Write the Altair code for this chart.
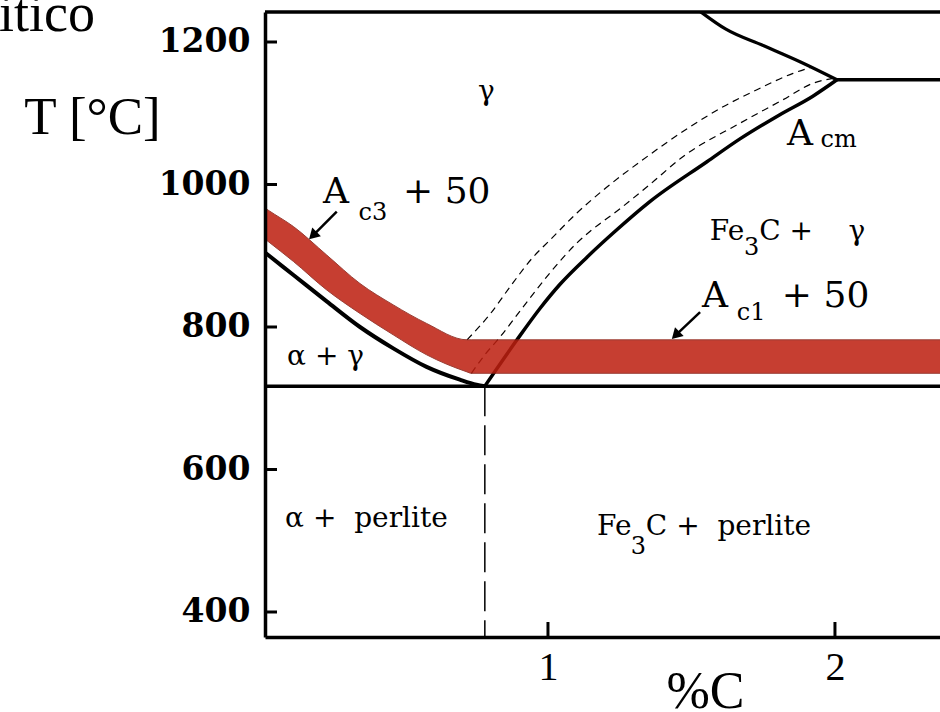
import altair as alt
import pandas as pd

# ---- axis ticks -------------------------------------------------------
x_ticks = [1, 2]
y_ticks = [400, 600, 800, 1000, 1200]

# ---- phase boundaries (%C, T in °C) -----------------------------------
# A3 line: alpha+gamma / gamma boundary down to the eutectoid point
a3_c = [0.0, 0.025, 0.113, 0.229, 0.345, 0.461, 0.577, 0.693, 0.751, 0.78]
a3_t = [909, 901, 873, 836, 800, 770, 744, 726, 719, 717]

# eutectoid isotherm A1
a1_c = [0.0, 2.4]
a1_t = [717, 717]

# Acm line: gamma / Fe3C+gamma boundary up to the eutectic point
acm_c = [0.78, 0.892, 0.972, 1.042, 1.136, 1.233, 1.355, 1.554, 1.669, 1.808, 1.923, 2.007]
acm_t = [717, 782, 826, 860, 898, 934, 976, 1032, 1064, 1098, 1124, 1147]

# solidus branch reaching the eutectic point
sol_c = [1.53, 1.62, 1.75, 1.88, 2.007]
sol_t = [1243, 1218, 1195, 1172, 1147]

# eutectic isotherm
eut_c = [2.007, 2.4]
eut_t = [1147, 1147]

# dashed curves above Acm
dash_a_c = [0.718, 0.798, 0.878, 0.948, 1.007, 1.101, 1.192, 1.328, 1.495, 1.610, 1.728, 1.854, 1.913]
dash_a_t = [782, 818, 862, 898, 922, 960, 992, 1034, 1081, 1109, 1133, 1156, 1164]
dash_b_c = [0.733, 0.780, 0.833, 0.913, 1.007, 1.101, 1.146, 1.251, 1.355, 1.470, 1.669, 1.819, 1.923, 1.993]
dash_b_t = [735, 761, 786, 828, 876, 918, 934, 966, 1000, 1039, 1086, 1119, 1142, 1149]

# eutectoid composition (vertical dashed line)
eutectoid_c = [0.78, 0.78]
eutectoid_t = [717, 364.9]

# hardening temperature range: Ac3+50 and Ac1+50 band
band_c = [0.0, 0.025, 0.113, 0.229, 0.345, 0.461, 0.577, 0.718, 0.733, 2.4]
band_hi = [971, 964, 941, 901, 861, 831, 805, 782, 782, 782]
band_lo = [928, 920, 892, 852, 819, 789, 761, 737, 735, 735]

# arrows pointing to the band
arrow_c0 = [0.264, 1.530]
arrow_t0 = [962, 821]
arrow_c1 = [0.185, 1.449]
arrow_t1 = [930, 790]

# annotations: text, %C, T, font size
label_text = ["\u03b3", "A", "c3", "+ 50", "A", "c1", "+ 50", "A", "cm",
              "Fe", "3", "C +\u00a0\u00a0\u00a0\u00a0\u03b3", "\u03b1 + \u03b3",
              "\u03b1 +\u00a0\u00a0perlite", "Fe", "3", "C +\u00a0\u00a0perlite"]
label_c = [0.756, 0.216, 0.340, 0.495, 1.537, 1.658, 1.815, 1.833, 1.950,
           1.564, 1.683, 1.736, 0.091, 0.084, 1.171, 1.288, 1.341]
label_t = [1119, 974, 950, 974, 828, 810, 828, 1055, 1053,
           922, 901, 922, 747, 519, 508, 482, 508]
label_size = [28, 36, 24, 36, 36, 24, 36, 36, 24,
              28, 24, 28, 28, 28, 28, 24, 28]

W, H = 675, 625

x_scale = alt.Scale(domain=[0.014, 2.366], nice=False, zero=False)
y_scale = alt.Scale(domain=[364.9, 1242.1], nice=False, zero=False)

x_axis = alt.Axis(
    values=x_ticks, format="d", ticks=False, grid=False,
    labelFont="Liberation Serif", labelFontSize=40, labelColor="black",
    labelPadding=10, labelFlush=False,
    domainColor="black", domainWidth=3.5,
    title="%C", titleFont="Liberation Serif", titleFontSize=52,
    titleFontWeight="normal", titleColor="black",
    titleX=440, titleY=70, titleAlign="center", titleBaseline="alphabetic",
    zindex=1,
)
y_axis = alt.Axis(
    values=y_ticks, format="d", ticks=False, grid=False,
    labelFont="DejaVu Serif", labelFontSize=33, labelFontWeight="bold",
    labelColor="black", labelPadding=15, labelBaseline="middle", labelFlush=False,
    domainColor="black", domainWidth=3.5,
    title="T [\u00b0C]", titleFont="Liberation Serif", titleFontSize=53,
    titleFontWeight="normal", titleColor="black", titleAngle=0,
    titleX=-173, titleY=121, titleAlign="center", titleBaseline="alphabetic",
    zindex=1,
)


def xq(field):
    return alt.X(field, type="quantitative", scale=x_scale, axis=x_axis)


def yq(field):
    return alt.Y(field, type="quantitative", scale=y_scale, axis=y_axis)


def curve(cs, ts, **mark):
    df = pd.DataFrame({"c": cs, "t": ts})
    return alt.Chart(df).mark_line(clip=True, **mark).encode(x=xq("c"), y=yq("t"))


a1_line = curve(a1_c, a1_t, color="black", strokeWidth=3.5)
a3_line = curve(a3_c, a3_t, color="black", strokeWidth=4, interpolate="monotone")
acm_line = curve(acm_c, acm_t, color="black", strokeWidth=3.5, interpolate="monotone")
sol_line = curve(sol_c, sol_t, color="black", strokeWidth=3.2, interpolate="monotone")
eut_line = curve(eut_c, eut_t, color="black", strokeWidth=3.5)
dash_a = curve(dash_a_c, dash_a_t, color="black", strokeWidth=1.2,
               strokeDash=[7, 5], interpolate="monotone")
dash_b = curve(dash_b_c, dash_b_t, color="black", strokeWidth=1.2,
               strokeDash=[7, 5], interpolate="monotone")
eutectoid_line = curve(eutectoid_c, eutectoid_t, color="black", strokeWidth=1.5,
                       strokeDash=[30, 9])

band_df = pd.DataFrame({"c": band_c, "hi": band_hi, "lo": band_lo})
band = alt.Chart(band_df).mark_area(
    clip=True, color="#bd1f10", opacity=0.86, stroke="#8a1f14", strokeWidth=1,
    interpolate="monotone",
).encode(x=xq("c"), y=yq("hi"), y2="lo")

arrow_df = pd.DataFrame({"c0": arrow_c0, "t0": arrow_t0, "c1": arrow_c1, "t1": arrow_t1})
arrow_shaft = alt.Chart(arrow_df).mark_rule(color="black", strokeWidth=2.5).encode(
    x=xq("c0"), y=yq("t0"), x2="c1", y2="t1"
)
arrow_head = alt.Chart(arrow_df).mark_point(
    shape="triangle", filled=True, color="black", opacity=1, size=150, angle=225
).encode(x=xq("c1"), y=yq("t1"))

label_df = pd.DataFrame({"text": label_text, "c": label_c, "t": label_t, "fs": label_size})
labels = alt.Chart(label_df).mark_text(
    font="DejaVu Serif", align="left", baseline="alphabetic", color="black"
).encode(
    x=xq("c"), y=yq("t"), text="text:N", size=alt.Size("fs:Q", scale=None)
)

# inward tick marks on both axes
ytick_df = pd.DataFrame({"t": y_ticks})
y_tick_marks = alt.Chart(ytick_df).mark_rule(color="black", strokeWidth=3).encode(
    y=yq("t"), x=alt.value(0), x2=alt.value(12)
)
xtick_df = pd.DataFrame({"c": x_ticks})
x_tick_marks = alt.Chart(xtick_df).mark_rule(color="black", strokeWidth=3).encode(
    x=xq("c"), y=alt.value(H), y2=alt.value(H - 15)
)

# top border of the diagram
top_border = alt.Chart(pd.DataFrame({"k": [0]})).mark_rule(
    color="black", strokeWidth=3.5
).encode(y=alt.value(0), x=alt.value(0), x2=alt.value(W))

# heading text running off the left edge
heading = alt.Chart(pd.DataFrame({"text": ["itico"]})).mark_text(
    font="Liberation Serif", fontSize=54, align="left", baseline="alphabetic",
    color="black"
).encode(text="text:N", x=alt.value(-266), y=alt.value(19))

chart = alt.layer(
    a1_line, a3_line, dash_a, dash_b, acm_line, sol_line, eut_line,
    eutectoid_line, band, arrow_shaft, arrow_head, labels,
    y_tick_marks, x_tick_marks, top_border, heading,
).properties(
    width=W, height=H,
    autosize=alt.AutoSizeParams(type="none"),
    padding={"left": 265, "top": 12, "right": 0, "bottom": 75},
    background="white",
).configure_view(stroke=None)

chart.save("out.html", embed_options={"renderer": "svg", "actions": False})
